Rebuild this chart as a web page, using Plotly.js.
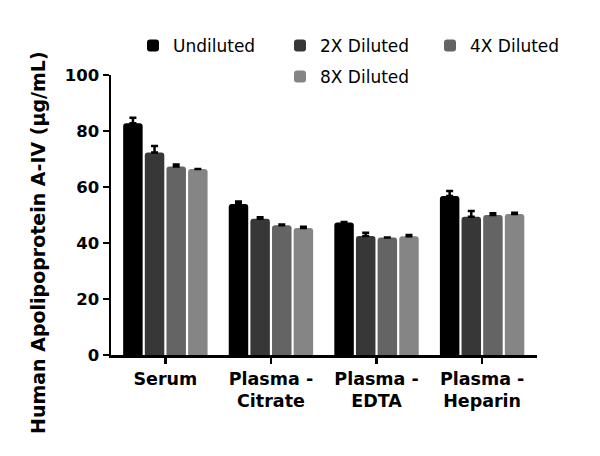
<!DOCTYPE html>
<html>
<head>
<meta charset="utf-8">
<script src="https://cdn.plot.ly/plotly-3.0.1.min.js"></script>
<style>
  html, body { margin: 0; padding: 0; background: #fff; }
  #chart { width: 600px; height: 456px; }
</style>
</head>
<body>
<div id="chart"></div>
<script>
// sample types and measured concentrations (ug/mL), upper error bars only
let samples = ["Serum", "Plasma -<br>Citrate", "Plasma -<br>EDTA", "Plasma -<br>Heparin"];

let undiluted    = [82.8, 53.9, 47.3, 56.8];
let undilutedErr = [1.9, 0.9, 0.2, 1.8];
let diluted2x    = [72.3, 48.7, 42.5, 49.4];
let diluted2xErr = [2.3, 0.5, 1.2, 2.0];
let diluted4x    = [67.3, 46.3, 42.0, 50.0];
let diluted4xErr = [0.7, 0.3, 0.0, 0.6];
let diluted8x    = [66.4, 45.4, 42.4, 50.4];
let diluted8xErr = [0.0, 0.4, 0.5, 0.4];

let font = "DejaVu Sans, Arial, sans-serif";

function series(name, y, err, color, legend){
    return {
        type: 'bar',
        name: name,
        x: samples,
        y: y,
        legend: legend,
        marker: {color: color, line: {width: 0}},
        error_y: {
            type: 'data',
            symmetric: false,
            array: err,
            arrayminus: err.map(() => 0),
            color: '#000',
            thickness: 2.5,
            width: 3.5
        }
    };
}

let traces = [
    series("Undiluted", undiluted, undilutedErr, '#000000', 'legend'),
    series("2X Diluted", diluted2x, diluted2xErr, '#373737', 'legend2'),
    series("4X Diluted", diluted4x, diluted4xErr, '#646464', 'legend3'),
    series("8X Diluted", diluted8x, diluted8xErr, '#858585', 'legend4')
];

// one legend per entry so the two rows sit like the original
function legendAt(px, py){
    return {
        orientation: 'h',
        xref: 'container', yref: 'container',
        xanchor: 'left', yanchor: 'middle',
        x: px/600, y: 1 - py/456,
        font: {family: font, size: 17, color: '#000'},
        itemwidth: 30,
        bgcolor: 'rgba(0,0,0,0)'
    };
}

let layout = {
    width: 600,
    height: 456,
    margin: {l: 111, r: 63, t: 75, b: 101, autoexpand: false},
    paper_bgcolor: '#fff',
    plot_bgcolor: '#fff',
    barmode: 'group',
    bargap: 0.18,
    bargroupgap: 0.1,
    barcornerradius: 3,
    showlegend: true,
    legend: legendAt(133, 46),
    legend2: legendAt(280, 46),
    legend3: legendAt(430, 46),
    legend4: legendAt(280, 77),
    xaxis: {
        range: [-0.515, 3.52],
        showline: true, linewidth: 2.5, linecolor: '#000',
        ticks: 'outside', ticklen: 6, tickwidth: 2.5, tickcolor: '#000',
        tickfont: {family: font, size: 17.5, color: '#000', weight: 'bold'},
        showgrid: false, zeroline: false
    },
    yaxis: {
        range: [0, 100],
        tickvals: [0, 20, 40, 60, 80, 100],
        showline: true, linewidth: 2.5, linecolor: '#000',
        ticks: 'outside', ticklen: 6, tickwidth: 2.5, tickcolor: '#000',
        tickfont: {family: font, size: 16.5, color: '#000', weight: 'bold'},
        showgrid: false, zeroline: false
    },
    annotations: [{
        text: 'Human Apolipoprotein A-IV (μg/mL)',
        xref: 'paper', yref: 'paper',
        x: (38 - 111) / 426, y: (355 - 243) / 280,
        xanchor: 'center', yanchor: 'middle',
        textangle: -90, showarrow: false,
        font: {family: font, size: 19, color: '#000', weight: 'bold'}
    }]
};

Plotly.newPlot('chart', traces, layout, {staticPlot: true});
</script>
</body>
</html>
